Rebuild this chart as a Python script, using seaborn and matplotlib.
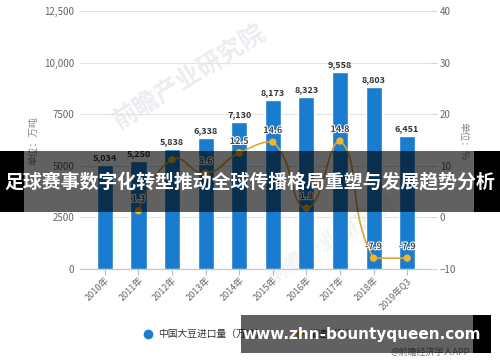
import numpy as np
import pandas as pd
import matplotlib
matplotlib.use('Agg')
import matplotlib.pyplot as plt
import seaborn as sns
from matplotlib.patches import Rectangle
from matplotlib.lines import Line2D
import matplotlib.patheffects as pe

# ---------------- data ----------------
years = ['2010年', '2011年', '2012年', '2013年', '2014年', '2015年',
         '2016年', '2017年', '2018年', '2019年Q3']
imports = [5034, 5250, 5838, 6338, 7130, 8173, 8323, 9558, 8803, 6451]
growth = [np.nan, 1.3, 11.2, 8.6, 12.5, 14.6, 1.8, 14.8, -7.9, -7.9]
growth_labels = ['', '1.3', '', '8.6', '12.5', '14.6', '1.8', '14.8', '-7.9', '-7.9']
left_ticks = [0, 2500, 5000, 7500, 10000, 12500]
left_tick_labels = ['0', '2500', '5000', '7500', '10,000', '12,500']
right_ticks = [-10, 0, 10, 20, 30, 40]
series_names = ['中国大豆进口量（万吨）', '增速（%）']
banner_text = '足球赛事数字化转型推动全球传播格局重塑与发展趋势分析'
site_text = 'www.zhn-bountyqueen.com'
source_text = '@前瞻经济学人APP'

BAR_C = '#1a7ccf'
LINE_C = '#d8a73a'
PT_C = '#f2b428'
TXT = '#333333'
TICK_C = '#666666'

sns.set_theme(style='white')
plt.rcParams['font.family'] = ['Noto Sans CJK SC', 'DejaVu Sans']

fig = plt.figure(figsize=(5, 3.62), dpi=100)
W, H = 500, 362
ax = fig.add_axes([80 / W, 1 - 269 / H, 350 / W, 258 / H])

# watermark (behind the axes)
fig.text(190 / W, 1 - 78 / H, '前瞻产业研究院', fontsize=18, color='#ebedf0',
         rotation=32, ha='center', va='center', fontweight='bold', zorder=-2)
fig.text(330 / W, 1 - 240 / H, '前瞻产业研究院', fontsize=15, color='#f1f3f5',
         rotation=32, ha='center', va='center', fontweight='bold', zorder=-2)

df = pd.DataFrame({'year': years, 'imports': imports})
sns.barplot(data=df, x='year', y='imports', color=BAR_C, width=0.48,
            saturation=1, ax=ax, zorder=3)
ax.set_xlim(-0.74, 9.68)
ax.set_ylim(0, 12500)
ax.set_xlabel('')
ax.set_ylabel('')
ax.patch.set_alpha(0)

ax.set_yticks(left_ticks)
ax.set_yticklabels(left_tick_labels)
ax.tick_params(axis='y', length=0, pad=4, labelsize=7, labelcolor=TICK_C)
ax.tick_params(axis='x', length=4, width=0.8, color='#bbbbbb', direction='out',
               labelsize=6.5, labelcolor=TICK_C, pad=1, bottom=True)
for lab in ax.get_xticklabels():
    lab.set_rotation(45)
    lab.set_ha('right')
    lab.set_rotation_mode('anchor')
ax.yaxis.grid(True, color='#e3e3e3', lw=0.8, zorder=0)
ax.set_axisbelow(True)
for s in ['left', 'right', 'top']:
    ax.spines[s].set_visible(False)
ax.spines['bottom'].set_color('#c8c8c8')
ax.spines['bottom'].set_linewidth(0.9)

for cont in ax.containers:
    ax.bar_label(cont, labels=[f'{v:,.0f}' for v in imports], padding=2,
                 fontsize=6.5, fontweight='bold', color=TXT, zorder=5)

# right axis
ax2 = ax.twinx()
ax2.set_ylim(-10, 40)
ax2.set_yticks(right_ticks)
ax2.tick_params(axis='y', length=5, width=0.8, color='#d5d5d5', pad=2,
                labelsize=7, labelcolor=TICK_C)
for s in ['left', 'right', 'top', 'bottom']:
    ax2.spines[s].set_visible(False)
ax2.grid(False)
ax2.patch.set_alpha(0)

# smoothed line (echarts-like bezier smoothing, computed from data)
xs = np.arange(len(years), dtype=float)
gy = np.array(growth, dtype=float)
mask = ~np.isnan(gy)
sx, sy = 350 / 10.42, 258 / 50.0
P = np.column_stack([xs[mask] * sx, gy[mask] * sy])
pmin, pmax = P.min(axis=0), P.max(axis=0)
smooth = 0.5
curve = []
cp0 = P[0].copy()
n = len(P)
for i in range(1, n):
    p = P[i]
    prev = P[i - 1]
    if i == n - 1:
        cp1 = p.copy()
        v = np.zeros(2)
        ratio = 0.5
    else:
        nxt = P[i + 1]
        v = nxt - prev
        lp = np.linalg.norm(p - prev)
        ln = np.linalg.norm(nxt - p)
        ratio = ln / (ln + lp)
        cp1 = p - v * smooth * (1 - ratio)
    c0 = np.clip(cp0, pmin, pmax)
    c1 = np.clip(cp1, pmin, pmax)
    t = np.linspace(0, 1, 40)[:, None]
    seg = ((1 - t) ** 3) * prev + 3 * ((1 - t) ** 2) * t * c0 + \
        3 * (1 - t) * t ** 2 * c1 + t ** 3 * p
    curve.append(seg if i == 1 else seg[1:])
    cp0 = p + v * smooth * ratio
curve = np.vstack(curve)
ax2.plot(curve[:, 0] / sx, curve[:, 1] / sy, color=LINE_C, lw=1.2, zorder=4)
sns.scatterplot(x=xs[mask], y=gy[mask], color=PT_C, s=28, edgecolor='none',
                ax=ax2, zorder=5, legend=False)
for x, y, lab in zip(xs, gy, growth_labels):
    if not lab:
        continue
    ax2.annotate(lab, (x, y), xytext=(0, 5), textcoords='offset points',
                 ha='center', va='bottom', fontsize=6.5, color='#444444',
                 fontweight='bold', zorder=6,
                 path_effects=[pe.withStroke(linewidth=1.5, foreground='white')])

# axis unit labels
fig.text(33 / W, 1 - 141 / H, '单位：万吨', rotation=90, fontsize=7,
         color='#888888', ha='center', va='center')
fig.text(463 / W, 1 - 141 / H, '单位：%', rotation=-90, fontsize=7,
         color='#888888', ha='center', va='center')

# legend
handles = [Line2D([], [], marker='o', color='none', markerfacecolor=BAR_C,
                  markeredgecolor='none', markersize=7),
           Line2D([], [], marker='o', color=LINE_C, markerfacecolor=PT_C,
                  markeredgecolor='none', markersize=5, lw=1.2)]
fig.legend(handles, series_names, loc='center', bbox_to_anchor=(0.5, 1 - 334 / H),
           ncol=2, frameon=False, fontsize=7, handlelength=1.0,
           handletextpad=0.5, columnspacing=3.0, labelcolor=TXT)

# overlay bands
def band(x0, x1, y0, y1, alpha):
    fig.add_artist(Rectangle((x0 / W, 1 - y1 / H), (x1 - x0) / W, (y1 - y0) / H,
                             transform=fig.transFigure, facecolor='black',
                             alpha=alpha, edgecolor='none', zorder=20))

band(0, 24, 151, 212, 1.0)
band(24, 474, 151, 212, 0.62)
band(474, 500, 151, 212, 1.0)
fig.text(250 / W, 1 - 182 / H, banner_text, fontsize=13.6, color='white',
         fontweight='bold', ha='center', va='center', zorder=21)

band(241, 473, 315, 353, 0.62)
band(473, 491, 315, 353, 1.0)
fig.text(430 / W, 1 - 352 / H, source_text, fontsize=6.5, color='#777777',
         ha='center', va='center', zorder=19)
fig.text(362 / W, 1 - 334 / H, site_text, fontsize=11, color='white',
         fontweight='bold', ha='center', va='center', zorder=21,
         family='DejaVu Sans')

fig.savefig('out.png', dpi=100)
